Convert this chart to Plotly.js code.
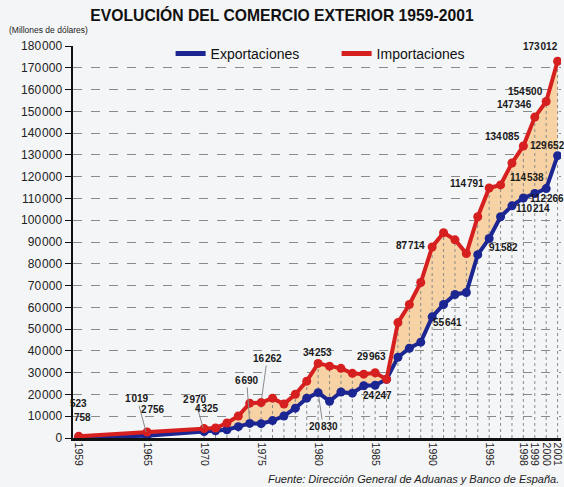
<!DOCTYPE html>
<html>
<head>
<meta charset="utf-8">
<script src="https://cdn.plot.ly/plotly-3.0.1.min.js"></script>
<style>
  html, body { margin: 0; padding: 0; background: #f4f5f7; }
  #chart { width: 564px; height: 487px; }
</style>
</head>
<body>
<div id="chart"></div>
<script>
// ---- Data (millions of US dollars) ----
const years = [1959, 1965, 1970, 1971, 1972, 1973, 1974, 1975, 1976, 1977, 1978, 1979,
  1980, 1981, 1982, 1983, 1984, 1985, 1986, 1987, 1988, 1989, 1990, 1991, 1992, 1993,
  1994, 1995, 1996, 1997, 1998, 1999, 2000, 2001];
const exportaciones = [523, 1019, 2970, 3300, 3800, 5200, 6690, 6600, 8000, 10100, 13700, 18300,
  20830, 16900, 21100, 20600, 24000, 24247, 27000, 37100, 41200, 44000, 55641, 61300, 65900, 66800,
  84200, 91582, 101600, 106600, 110214, 112266, 114538, 129652];
const importaciones = [758, 2756, 4325, 4600, 6900, 10100, 16000, 16262, 18300, 15600, 20100, 26100,
  34253, 33000, 32000, 29700, 29300, 29963, 27000, 53000, 61300, 71400, 87714, 94300, 91000, 84700,
  101600, 114791, 116200, 126300, 134085, 147346, 154500, 173012];
const xTickYears = [1959, 1965, 1970, 1975, 1980, 1985, 1990, 1995, 1998, 1999, 2000, 2001];

// Labelled values: [year, dx, dy, leader]
const labelsExp = [[1959, 0, -33, false], [1965, -10, -37, true], [1970, -9, -32, true],
  [1974, -3, -43, true], [1980, 5, 34, true], [1985, 2, 10, false], [1990, 15, 6, false],
  [1995, 14, 9, false], [1998, 10, 11, false], [1999, 12, 5, false], [2000, -19, -11, false],
  [2001, -10, -10, false]];
const labelsImp = [[1959, 4, -19, false], [1965, 6, -23, false], [1970, 3, -20, false],
  [1975, 6, -44, true], [1980, -1, -11, false], [1985, -4, -16, false], [1990, -22, -1, false],
  [1995, -22, -5, false], [1998, -21, -9, false], [1999, -20, -13, false], [2000, -21, -10, false],
  [2001, -17, -15, false]];

const BLUE = '#1b2692';
const RED = '#d61f1f';
const FILL = '#f6d2a4';
const FONT = 'Liberation Sans, Arial, sans-serif';

// drop lines built from data
const dropX = [], dropY = [];
years.forEach((y, i) => { dropX.push(y, y, null); dropY.push(0, importaciones[i], null); });

const traces = [
  { x: years, y: exportaciones, type: 'scatter', mode: 'lines', line: { width: 0, color: BLUE },
    showlegend: false, hoverinfo: 'skip' },
  { x: years, y: importaciones, type: 'scatter', mode: 'lines', line: { width: 0, color: RED },
    fill: 'tonexty', fillcolor: FILL, showlegend: false, hoverinfo: 'skip' },
  { x: dropX, y: dropY, type: 'scatter', mode: 'lines',
    line: { width: 1, color: '#8a8a8a', dash: 'dot' }, showlegend: false, hoverinfo: 'skip' },
  { x: years, y: exportaciones, type: 'scatter', mode: 'lines+markers', showlegend: false,
    line: { width: 4, color: BLUE }, marker: { size: 9, color: BLUE } },
  { x: years, y: importaciones, type: 'scatter', mode: 'lines+markers', showlegend: false,
    line: { width: 4, color: RED }, marker: { size: 9, color: RED } },
  // legend entries (lines only)
  { x: [null], y: [null], type: 'scatter', mode: 'lines', name: 'Exportaciones',
    line: { width: 5, color: BLUE } },
  { x: [null], y: [null], type: 'scatter', mode: 'lines', name: 'Importaciones',
    line: { width: 5, color: RED } }
];

const fmt = v => String(v).replace(/\B(?=(\d{3})+(?!\d))/g, '\u200A');
const annotations = [];
function addLabels(list, series) {
  list.forEach(([yr, dx, dy, leader]) => {
    const i = years.indexOf(yr);
    annotations.push({
      x: yr, y: series[i], xref: 'x', yref: 'y', text: fmt(series[i]),
      showarrow: true, ax: dx, ay: dy, arrowhead: 0, arrowwidth: 1, standoff: 4,
      arrowcolor: leader ? '#8a8a8a' : 'rgba(0,0,0,0)',
      font: { family: FONT, size: 10, color: '#1a1a1a', weight: 'bold' }
    });
  });
}
addLabels(labelsExp, exportaciones);
addLabels(labelsImp, importaciones);

annotations.push({
  text: '(Millones de dólares)', xref: 'paper', yref: 'paper', x: -0.135, y: 1.04,
  xanchor: 'left', yanchor: 'middle', showarrow: false,
  font: { family: FONT, size: 8.5, color: '#222' }
});
annotations.push({
  text: '<i>Fuente: Dirección General de Aduanas y Banco de España.</i>',
  xref: 'paper', yref: 'paper', x: 1.0, y: -0.105, xanchor: 'right', yanchor: 'middle',
  showarrow: false, font: { family: FONT, size: 11, color: '#222' }
});

const layout = {
  width: 564, height: 487,
  margin: { l: 73, r: 3, t: 46, b: 49 },
  paper_bgcolor: '#f4f5f7', plot_bgcolor: '#f4f5f7',
  separators: '.\u200A',
  title: {
    text: '<b>EVOLUCIÓN DEL COMERCIO EXTERIOR 1959-2001</b>',
    xref: 'container', yref: 'container', x: 0.5, y: 1 - 16 / 487, xanchor: 'center', yanchor: 'middle',
    font: { family: FONT, size: 15.7, color: '#111' }
  },
  xaxis: {
    range: [1958.5, 2001.3], tickmode: 'array', tickvals: xTickYears, ticktext: xTickYears.map(String),
    tickangle: 90, showgrid: false, zeroline: false, showline: true, linecolor: '#111', linewidth: 2.5,
    ticks: '', ticklabeloverflow: 'allow', tickfont: { family: FONT, size: 10.5, color: '#222' }
  },
  yaxis: {
    range: [0, 180000], dtick: 10000, tickformat: ',d', showgrid: true, gridcolor: '#8a8a8a',
    griddash: 'dash', gridwidth: 1, zeroline: false, showline: true, linecolor: '#111', linewidth: 2.5,
    ticks: 'outside', ticklen: 6, tickwidth: 1, tickcolor: '#111',
    tickfont: { family: FONT, size: 12, color: '#222' }
  },
  legend: {
    orientation: 'h', x: 0.2, xanchor: 'left', y: 0.98, yanchor: 'middle', traceorder: 'normal',
    bgcolor: 'rgba(0,0,0,0)', entrywidth: 121, entrywidthmode: 'pixels',
    font: { family: FONT, size: 14, color: '#111' }
  },
  annotations: annotations,
  showlegend: true
};

Plotly.newPlot('chart', traces, layout, { displayModeBar: false, staticPlot: true });
</script>
</body>
</html>
